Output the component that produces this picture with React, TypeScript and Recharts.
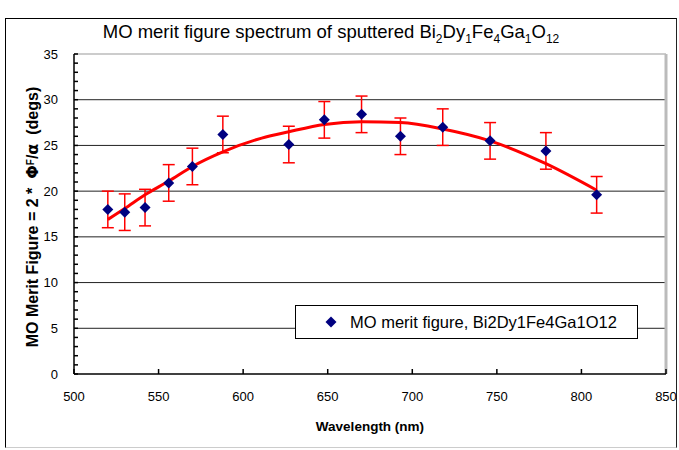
import {
  ComposedChart,
  XAxis,
  YAxis,
  Scatter,
  Line,
  ErrorBar,
  ReferenceLine,
  Legend,
  Label,
} from "recharts";

const FONT = "Arial, 'Liberation Sans', Helvetica, sans-serif";

// measured points
const wavelengths = [520, 530, 542, 556, 570, 588, 627, 648, 670, 693, 718, 746, 779, 809];
const meritValues = [18.0, 17.7, 18.2, 20.9, 22.7, 26.2, 25.1, 27.8, 28.4, 26.0, 27.0, 25.5, 24.4, 19.6];
const meritErrors = [2, 2, 2, 2, 2, 2, 2, 2, 2, 2, 2, 2, 2, 2];

// polynomial trend line
const trendWavelengths = [520, 530, 542, 556, 570, 588, 611, 627, 648, 670, 693, 718, 746, 779, 809];
const trendValues = [16.9, 18.1, 19.6, 21.1, 22.7, 24.3, 25.8, 26.5, 27.3, 27.6, 27.5, 26.8, 25.5, 23.0, 20.1];

const xTicks = [500, 550, 600, 650, 700, 750, 800, 850];
const yTicks = [
  0, 1, 2, 3, 4, 5, 6, 7, 8, 9, 10, 11, 12, 13, 14, 15, 16, 17, 18, 19, 20,
  21, 22, 23, 24, 25, 26, 27, 28, 29, 30, 31, 32, 33, 34, 35,
];
const gridValues = [5, 10, 15, 20, 25, 30];

const points = wavelengths.map((x, i) => ({ x, y: meritValues[i], err: meritErrors[i] }));
const trend = trendWavelengths.map((x, i) => ({ x, y: trendValues[i] }));

const Diamond = (props: any) => {
  const { cx, cy } = props;
  if (cx == null || cy == null) return null;
  const r = 5.5;
  return (
    <polygon
      points={`${cx},${cy - r} ${cx + r},${cy} ${cx},${cy + r} ${cx - r},${cy}`}
      fill="#000080"
    />
  );
};

const LegendBox = () => (
  <div
    style={{
      width: 341,
      height: 32,
      background: "#fff",
      border: "1px solid #000",
      fontFamily: FONT,
      fontSize: 16.5,
      display: "flex",
      alignItems: "center",
      boxSizing: "content-box",
    }}
  >
    <svg width={12} height={12} style={{ marginLeft: 29, marginRight: 13 }}>
      <polygon points="6,0.5 11.5,6 6,11.5 0.5,6" fill="#000080" />
    </svg>
    <span>MO merit figure, Bi2Dy1Fe4Ga1O12</span>
  </div>
);

const YTitle = (props: any) => {
  const vb = props.viewBox || {};
  const x = vb.x - 41;
  const y = vb.y + vb.height / 2 + 3;
  return (
    <text
      x={x}
      y={y}
      transform={`rotate(-90, ${x}, ${y})`}
      textAnchor="middle"
      dominantBaseline="central"
      fontFamily={FONT}
      fontWeight="bold"
      fontSize={16}
      fill="#000"
    >
      {"MO Merit Figure = 2 *\u00a0\u00a0"}
      <tspan fontFamily="'DejaVu Sans', sans-serif">Φ</tspan>
      <tspan fontSize={10} dy={-2}>F</tspan>
      <tspan dy={2}>/</tspan>
      <tspan fontFamily="'DejaVu Sans', sans-serif">α</tspan>
      {"\u00a0\u00a0(degs)"}
    </text>
  );
};

export default function App() {
  return (
    <div style={{ position: "absolute", left: 0, top: 0, width: 679, height: 450, background: "#fff" }}>
      <div
        style={{
          position: "absolute",
          left: 5,
          top: 18,
          width: 670,
          height: 428,
          borderTop: "1.5px solid #000",
          borderLeft: "1.5px solid #000",
          borderRight: "1.5px solid #222",
          borderBottom: "1.5px solid #ccc",
        }}
      />
      <div
        style={{
          position: "absolute",
          left: 0,
          width: 662,
          top: 20,
          textAlign: "center",
          fontFamily: FONT,
          fontSize: 18.5,
          color: "#000",
          lineHeight: "24px",
        }}
      >
        MO merit figure spectrum of sputtered Bi<sub style={{ fontSize: 12 }}>2</sub>Dy
        <sub style={{ fontSize: 12 }}>1</sub>Fe<sub style={{ fontSize: 12 }}>4</sub>Ga
        <sub style={{ fontSize: 12 }}>1</sub>O<sub style={{ fontSize: 12 }}>12</sub>
      </div>
      <div style={{ position: "absolute", left: 0, top: 0 }}>
        <ComposedChart
          width={679}
          height={450}
          margin={{ top: 54, right: 13, bottom: 75, left: 73 }}
        >
          <XAxis
            type="number"
            dataKey="x"
            domain={[500, 850]}
            ticks={xTicks}
            allowDataOverflow
            height={1}
            stroke="#000"
            strokeWidth={1.5}
            tickSize={-5}
            tickMargin={23}
            tick={{ fill: "#000", fontSize: 13, fontFamily: FONT }}
          >
            <Label
              value="Wavelength (nm)"
              position="bottom"
              offset={46}
              style={{ fontFamily: FONT, fontSize: 13.5, fontWeight: "bold", fill: "#000" }}
            />
          </XAxis>
          <YAxis
            type="number"
            domain={[0, 35]}
            ticks={yTicks}
            interval={0}
            width={1}
            stroke="#000"
            strokeWidth={1.5}
            tickSize={-4}
            tickMargin={20}
            tickFormatter={(v: number) => (v % 5 === 0 ? String(v) : "")}
            tick={{ fill: "#000", fontSize: 13, fontFamily: FONT }}
          >
            <Label content={<YTitle />} />
          </YAxis>
          {gridValues.map((v) => (
            <ReferenceLine key={`g-${v}`} y={v} stroke="#222" strokeWidth={1} />
          ))}
          <ReferenceLine y={35} stroke="#999" strokeWidth={1} />
          <ReferenceLine x={850} stroke="#bbb" strokeWidth={3} />
          <Legend
            layout="vertical"
            align="center"
            verticalAlign="middle"
            content={<LegendBox />}
            wrapperStyle={{ position: "absolute", left: 295, top: 305, width: 343, height: 34 }}
          />
          <Scatter
            name="MO merit figure, Bi2Dy1Fe4Ga1O12"
            data={points}
            dataKey="y"
            shape={<Diamond />}
            isAnimationActive={false}
          >
            <ErrorBar dataKey="err" direction="y" width={6} stroke="#ff0000" strokeWidth={1.5} />
          </Scatter>
          <Line
            data={trend}
            dataKey="y"
            type="monotone"
            stroke="#ff0000"
            strokeWidth={3}
            dot={false}
            activeDot={false}
            legendType="none"
            isAnimationActive={false}
          />
        </ComposedChart>
      </div>
    </div>
  );
}
